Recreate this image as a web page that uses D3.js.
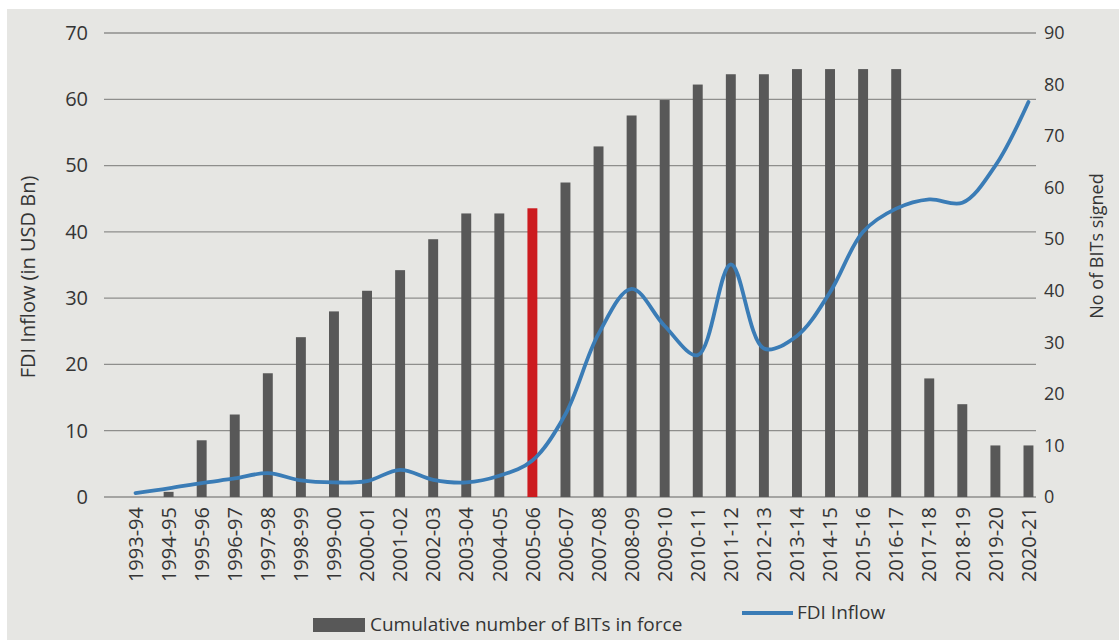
<!DOCTYPE html>
<html>
<head>
<meta charset="utf-8">
<script src="https://cdn.jsdelivr.net/npm/d3@7"></script>
<style>
  html, body { margin: 0; padding: 0; background: #ffffff; }
  svg { display: block; }
  text { font-family: "Open Sans", "Noto Sans", sans-serif; fill: #353535; }
</style>
</head>
<body>
<svg id="chart" width="1119" height="640"></svg>
<script>
// Financial years on the category axis
const categories = [
  "1993-94", "1994-95", "1995-96", "1996-97", "1997-98", "1998-99", "1999-00",
  "2000-01", "2001-02", "2002-03", "2003-04", "2004-05", "2005-06", "2006-07",
  "2007-08", "2008-09", "2009-10", "2010-11", "2011-12", "2012-13", "2013-14",
  "2014-15", "2015-16", "2016-17", "2017-18", "2018-19", "2019-20", "2020-21"
];

// Cumulative number of BITs in force (right axis)
const bitsInForce = [
  0, 1, 11, 16, 24, 31, 36,
  40, 44, 50, 55, 55, 56, 61,
  68, 74, 77, 80, 82, 82, 83,
  83, 83, 83, 23, 18, 10, 10
];

// FDI inflow, USD Bn (left axis)
const fdiInflow = [
  0.6, 1.3, 2.1, 2.8, 3.6, 2.5, 2.2,
  2.4, 4.1, 2.6, 2.2, 3.2, 5.5, 12.5,
  24.6, 31.4, 25.8, 21.4, 35.1, 22.4, 24.3,
  30.9, 40.0, 43.5, 44.9, 44.4, 50.0, 59.6
];

// Year shown in red
const highlightYear = "2005-06";

// Axis tick labels
const leftTicks = [0, 10, 20, 30, 40, 50, 60, 70];
const rightTicks = [0, 10, 20, 30, 40, 50, 60, 70, 80, 90];

const svg = d3.select("#chart");

// paper background
svg.append("rect")
  .attr("x", 7).attr("y", 9)
  .attr("width", 1112).attr("height", 631)
  .attr("fill", "#e6e6e3");

const plot = { top: 33, bottom: 497, gridLeft: 104, gridRight: 1036 };

const x = d3.scaleBand()
  .domain(categories)
  .range([119, 1045])
  .paddingInner(0.7)
  .paddingOuter(0.35);

const yLeft = d3.scaleLinear().domain([0, 70]).range([plot.bottom, plot.top]);
const yRight = d3.scaleLinear().domain([0, 90]).range([plot.bottom, plot.top]);

// horizontal gridlines from the primary axis
svg.append("g")
  .selectAll("line")
  .data(leftTicks)
  .join("line")
  .attr("x1", plot.gridLeft)
  .attr("x2", plot.gridRight)
  .attr("y1", d => yLeft(d))
  .attr("y2", d => yLeft(d))
  .attr("stroke", "#8e8e8c")
  .attr("stroke-width", 1.3);

// bars: cumulative BITs
svg.append("g")
  .selectAll("rect")
  .data(categories.map((c, i) => ({ c, v: bitsInForce[i] })))
  .join("rect")
  .attr("x", d => x(d.c))
  .attr("width", x.bandwidth())
  .attr("y", d => yRight(d.v))
  .attr("height", d => yRight(0) - yRight(d.v))
  .attr("fill", d => d.c === highlightYear ? "#cc1b1f" : "#585858");

// line: FDI inflow
const line = d3.line()
  .x((d, i) => x(categories[i]) + x.bandwidth() / 2)
  .y(d => yLeft(d))
  .curve(d3.curveCatmullRom.alpha(0.5));

svg.append("path")
  .datum(fdiInflow)
  .attr("d", line)
  .attr("fill", "none")
  .attr("stroke", "#3a7cb6")
  .attr("stroke-width", 3.8)
  .attr("stroke-linejoin", "round")
  .attr("stroke-linecap", "round");

// left axis
const leftAxis = svg.append("g")
  .attr("transform", "translate(88,0)")
  .call(d3.axisLeft(yLeft).tickValues(leftTicks).tickSize(0).tickPadding(0));
leftAxis.select(".domain").remove();
leftAxis.selectAll("text")
  .style("font-size", "20px")
  .attr("fill", "#353535");

// right axis
const rightAxis = svg.append("g")
  .attr("transform", "translate(1044,0)")
  .call(d3.axisRight(yRight).tickValues(rightTicks).tickSize(0).tickPadding(0));
rightAxis.select(".domain").remove();
rightAxis.selectAll("text")
  .style("font-size", "18px")
  .attr("fill", "#353535");

// category axis with vertical labels
const xAxis = svg.append("g")
  .attr("transform", `translate(0,${plot.bottom})`)
  .call(d3.axisBottom(x).tickSize(0));
xAxis.select(".domain").remove();
xAxis.selectAll("text")
  .attr("transform", "rotate(-90)")
  .attr("text-anchor", "end")
  .attr("x", -10)
  .attr("y", 0)
  .attr("dy", "0.36em")
  .style("font-size", "20px")
  .attr("fill", "#353535");

// axis titles
svg.append("text")
  .attr("transform", "translate(28,277) rotate(-90)")
  .attr("text-anchor", "middle")
  .attr("dy", "0.35em")
  .style("font-size", "20px")
  .text("FDI Inflow (in USD Bn)");

svg.append("text")
  .attr("transform", "translate(1097,246) rotate(-90)")
  .attr("text-anchor", "middle")
  .attr("dy", "0.35em")
  .style("font-size", "18px")
  .text("No of BITs signed");

// legend
const legend = svg.append("g");
legend.append("rect")
  .attr("x", 313).attr("y", 618)
  .attr("width", 52).attr("height", 14)
  .attr("fill", "#585858");
legend.append("text")
  .attr("x", 370).attr("y", 631)
  .style("font-size", "19px")
  .text("Cumulative number of BITs in force");
legend.append("line")
  .attr("x1", 742).attr("x2", 793)
  .attr("y1", 613).attr("y2", 613)
  .attr("stroke", "#3a7cb6")
  .attr("stroke-width", 4);
legend.append("text")
  .attr("x", 797).attr("y", 619)
  .style("font-size", "19px")
  .text("FDI Inflow");
</script>
</body>
</html>
